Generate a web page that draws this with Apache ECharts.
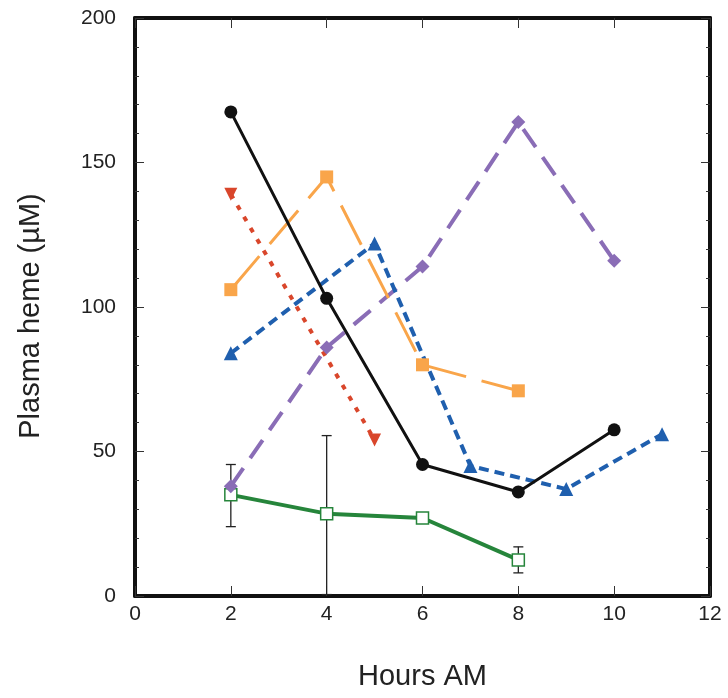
<!DOCTYPE html>
<html>
<head>
<meta charset="utf-8">
<script src="https://cdn.jsdelivr.net/npm/echarts@6/dist/echarts.min.js"></script>
<style>
    html, body { margin: 0; padding: 0; background: #fff; }
    #chart { width: 728px; height: 698px; }
</style>
</head>
<body>
<div id="chart"></div>
<script>
// values (hours AM, plasma heme in µM)
var blackPts = [[2, 167.5], [4, 103], [6, 45.5], [8, 36], [10, 57.5]];
var orangePts = [[2, 106], [4, 145], [6, 80], [8, 71]];
var redPts = [[2, 139], [5, 54]];
var bluePts = [[2, 84], [5, 122], [7, 45], [9, 37], [11, 56]];
var purplePts = [[2, 38], [4, 86], [6, 114], [8, 164], [10, 116]];
var greenPts = [[2, 35], [4, 28.5], [6, 27], [8, 12.5]];
// error bars for the green series: [x, low, high]
var greenErr = [[2, 24, 45.5], [4, 0.5, 55.5], [6, 25.5, 28.5], [8, 8, 17]];

var xTicks = [0, 2, 4, 6, 8, 10, 12];
var yTicks = [0, 50, 100, 150, 200];

var font = 'Liberation Sans, Arial, sans-serif';

function frameAxis(pos, isX, showLabels) {
    var ax = {
        type: 'value',
        position: pos,
        min: 0,
        max: isX ? xTicks[xTicks.length - 1] : yTicks[yTicks.length - 1],
        interval: isX ? xTicks[1] - xTicks[0] : yTicks[1] - yTicks[0],
        axisLine: { show: true, onZero: false, lineStyle: { color: '#111', width: 4 } },
        axisTick: { show: true, inside: true, length: isX ? 10 : 9, lineStyle: { color: '#333', width: 1 } },
        splitLine: { show: false },
        axisLabel: { show: showLabels, color: '#222', fontSize: 21, fontFamily: font, margin: isX ? 8 : 19 }
    };
    if (!isX) {
        ax.minorTick = { show: true, splitNumber: 5, length: 4, lineStyle: { color: '#333', width: 1 } };
    }
    return ax;
}

var xBottom = frameAxis('bottom', true, true);
xBottom.name = 'Hours AM';
xBottom.nameLocation = 'middle';
xBottom.nameGap = 66;
xBottom.nameTextStyle = { color: '#222', fontSize: 29, fontFamily: font };

var yLeft = frameAxis('left', false, true);
yLeft.name = 'Plasma heme (µM)';
yLeft.nameLocation = 'middle';
yLeft.nameGap = 90;
yLeft.nameTextStyle = { color: '#222', fontSize: 29, fontFamily: font, padding: [0, 18, 0, 0] };

function lineSeries(data, color, dash, width, symbol, size) {
    return {
        type: 'line',
        data: data,
        symbol: symbol,
        symbolSize: size,
        itemStyle: { color: color },
        lineStyle: { color: color, width: width, type: dash },
        animation: false,
        z: 3
    };
}

var chart = echarts.init(document.getElementById('chart'));
chart.setOption({
    animation: false,
    grid: { left: 135, right: 18, top: 18, bottom: 102 },
    xAxis: [xBottom, frameAxis('top', true, false)],
    yAxis: [yLeft, frameAxis('right', false, false)],
    series: [
        {
            type: 'custom',
            data: greenErr,
            renderItem: function (params, api) {
                var lo = api.coord([api.value(0), api.value(1)]);
                var hi = api.coord([api.value(0), api.value(2)]);
                var w = 5;
                var st = { stroke: '#222', lineWidth: 1.3 };
                return {
                    type: 'group',
                    children: [
                        { type: 'line', shape: { x1: lo[0], y1: lo[1], x2: hi[0], y2: hi[1] }, style: st },
                        { type: 'line', shape: { x1: lo[0] - w, y1: lo[1], x2: lo[0] + w, y2: lo[1] }, style: st },
                        { type: 'line', shape: { x1: hi[0] - w, y1: hi[1], x2: hi[0] + w, y2: hi[1] }, style: st }
                    ]
                };
            },
            z: 2
        },
        lineSeries(greenPts, '#26853b', 'solid', 4, 'rect', 12),
        lineSeries(purplePts, '#8a6db6', [22, 12], 4, 'diamond', 14),
        lineSeries(orangePts, '#f9a54a', [44, 16], 3, 'rect', 13),
        lineSeries(redPts, '#d9462b', [5, 8], 4, 'triangle', 13),
        lineSeries(bluePts, '#1f5fae', [10, 6], 4, 'triangle', 14),
        lineSeries(blackPts, '#111111', 'solid', 3, 'circle', 13)
    ]
});

// green markers are hollow squares
chart.setOption({
    series: [{}, { itemStyle: { color: '#ffffff', borderColor: '#26853b', borderWidth: 1.5 }, showAllSymbol: true }]
});
// red markers point down
chart.setOption({
    series: [{}, {}, {}, {}, { symbolRotate: 180 }]
});
</script>
</body>
</html>
